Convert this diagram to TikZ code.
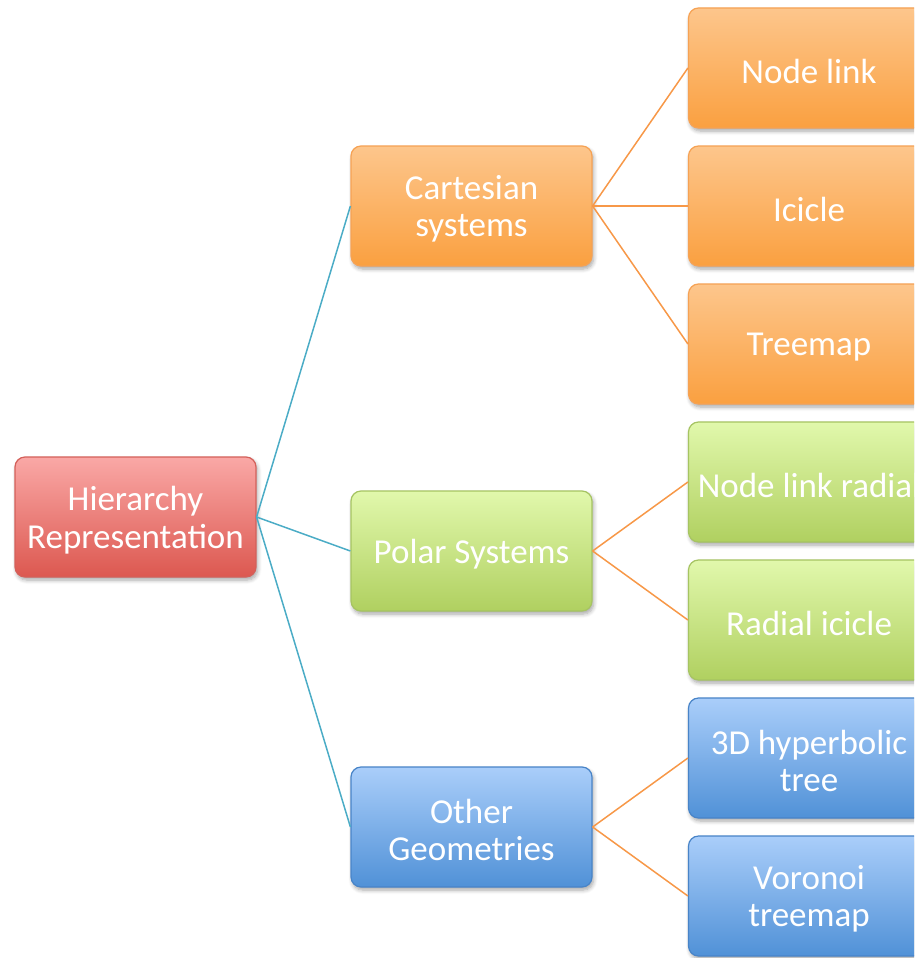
\documentclass[tikz,border=0pt]{standalone}
\usepackage{fontspec}
\setmainfont{Carlito}
\usetikzlibrary{shadows.blur}
\definecolor{orTop}{RGB}{253,198,140}
\definecolor{orBot}{RGB}{250,160,64}
\definecolor{orBd}{RGB}{246,162,84}
\definecolor{rdTop}{RGB}{250,168,166}
\definecolor{rdBot}{RGB}{220,88,80}
\definecolor{rdBd}{RGB}{212,96,90}
\definecolor{grTop}{RGB}{225,248,172}
\definecolor{grBot}{RGB}{176,208,96}
\definecolor{grBd}{RGB}{166,196,98}
\definecolor{blTop}{RGB}{170,206,250}
\definecolor{blBot}{RGB}{80,145,215}
\definecolor{blBd}{RGB}{72,132,200}
\definecolor{tealLine}{RGB}{75,172,198}
\definecolor{orLine}{RGB}{247,152,72}
\tikzset{
  boxtext/.style={align=center, text=white, inner sep=0pt, yshift=-3pt,
    font=\fontsize{35}{37.5}\selectfont},
  box/.style={rectangle, rounded corners=10pt, minimum width=241pt, minimum height=120pt,
    inner sep=0pt, line width=1.2pt,
    label={[boxtext]center:#1},
    blur shadow={shadow xshift=1.5pt, shadow yshift=-3pt, shadow blur steps=6, shadow opacity=35, shadow blur radius=4pt}},
  orbox/.style={box={#1}, draw=orBd, top color=orTop, bottom color=orBot},
  rdbox/.style={box={#1}, draw=rdBd, top color=rdTop, bottom color=rdBot},
  grbox/.style={box={#1}, draw=grBd, top color=grTop, bottom color=grBot},
  blbox/.style={box={#1}, draw=blBd, top color=blTop, bottom color=blBot},
  tline/.style={draw=tealLine, line width=1.5pt},
  oline/.style={draw=orLine, line width=1.5pt}
}
\begin{document}
\begin{tikzpicture}[x=1pt, y=-1pt]
\useasboundingbox (0,0) rectangle (914,958);
\clip (0,0) rectangle (914,958);
\node[rdbox={Hierarchy\\Representation}] (root) at (135.5,517) {};
\node[orbox={Cartesian\\systems}] (cart) at (471.5,206) {};
\node[grbox={Polar Systems}] (polar) at (471.5,551) {};
\node[blbox={Other\\Geometries}] (other) at (471.5,827) {};
\node[orbox={Node link}] (nl) at (809,68) {};
\node[orbox={Icicle}] (ic) at (809,206) {};
\node[orbox={Treemap}] (tm) at (809,344) {};
\node[grbox={Node link radial}] (nlr) at (809,482) {};
\node[grbox={Radial icicle}] (ri) at (809,620) {};
\node[blbox={3D hyperbolic\\tree}] (hyp) at (809,758) {};
\node[blbox={Voronoi\\treemap}] (vor) at (809,896) {};
\draw[tline] (root.east) -- (cart.west);
\draw[tline] (root.east) -- (polar.west);
\draw[tline] (root.east) -- (other.west);
\draw[oline] (cart.east) -- (nl.west);
\draw[oline] (cart.east) -- (ic.west);
\draw[oline] (cart.east) -- (tm.west);
\draw[oline] (polar.east) -- (nlr.west);
\draw[oline] (polar.east) -- (ri.west);
\draw[oline] (other.east) -- (hyp.west);
\draw[oline] (other.east) -- (vor.west);
\end{tikzpicture}
\end{document}
